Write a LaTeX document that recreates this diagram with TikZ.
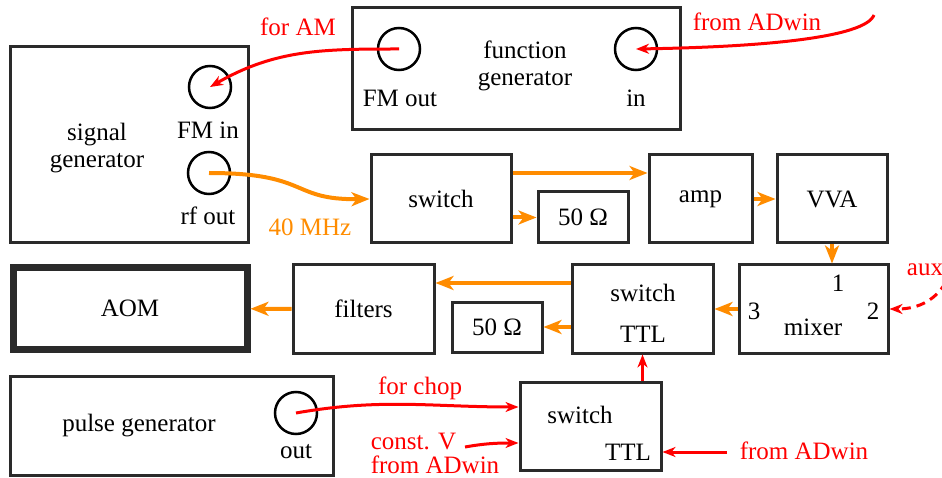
\documentclass[tikz,border=0pt]{standalone}
\usepackage{fontspec}
\setmainfont{Liberation Serif}
\usetikzlibrary{arrows.meta,positioning,calc}
\definecolor{ink}{HTML}{2A2A2A}
\definecolor{rfline}{HTML}{FF8C00}
\definecolor{ctrlline}{HTML}{FF0000}

\begin{document}
\begin{tikzpicture}[
  x=1pt, y=-1pt,
  font=\fontsize{25}{27}\selectfont,
  every node/.append style={align=center},
  unit/.style={draw=ink, line width=3pt, inner sep=0pt},
  port/.style={circle, draw=black, line width=2.5pt, minimum size=42pt, inner sep=0pt},
  rf/.style={-{Stealth[length=18pt,width=14pt,inset=5pt]}, draw=rfline, line width=4pt},
  ctrl/.style={-{Stealth[length=13pt,width=10pt,inset=4pt]}, draw=ctrlline, line width=3pt},
  note/.style={text=ctrlline, align=left},
  freq/.style={text=rfline}
]
\useasboundingbox (0,0) rectangle (942,478);

% Quellen oben links.
\node[unit, minimum width=238pt, minimum height=196pt] (siggen) at (129,145) {};
\node (siggentxt) at (97,148) {signal\\generator};
\node[port] (fmin) at (210,87) {};
\node (fminlbl) at (208,130) {FM in};
\node[port] (rfout) at (209,173) {};
\node (rfoutlbl) at (208,216) {rf out};

\node[unit, minimum width=328pt, minimum height=122pt] (funcgen) at (516,69) {};
\node (funcgentxt) at (525,66) {function\\generator};
\node[port] (fmout) at (399,49) {};
\node (fmoutlbl) at (400,98) {FM out};
\node[port] (fgin) at (636,49) {};
\node (fginlbl) at (636,98) {in};

% HF-Kette.
\node[unit, minimum width=140pt, minimum height=88pt] (rfswitch) at (441,199) {switch};
\node[unit, minimum width=90pt, minimum height=51pt] (dumpA) at (583,217.5) {50 Ω};
\node[unit, minimum width=103pt, minimum height=88pt] (amp) at (700.5,199) {amp};
\node[unit, minimum width=110pt, minimum height=88pt] (vva) at (832,199) {VVA};

\node[unit, line width=7pt, minimum width=234pt, minimum height=81pt] (aom) at (130,308.5) {AOM};
\node[unit, minimum width=141pt, minimum height=88pt] (filters) at (363.5,309) {filters};
\node[unit, minimum width=90pt, minimum height=50pt] (dumpB) at (497,327) {50 Ω};
\node[unit, minimum width=141pt, minimum height=88pt] (ttlswitch) at (642.5,309) {};
\node (ttlswitchtxt) at (643,313) {switch\\[14pt]TTL};
\node[unit, minimum width=149pt, minimum height=88pt] (mixer) at (813.5,309) {};
\node (mixone) at (838,283) {1};
\node (mixtwo) at (873,311) {2};
\node (mixthree) at (754,311) {3};
\node (mixtxt) at (813,327) {mixer};

% Pulse und Chop.
\node[unit, minimum width=323pt, minimum height=99pt] (pulsegen) at (171.5,425.5) {};
\node (pulsegentxt) at (139,426) {pulse generator};
\node[port] (pgout) at (296,413) {};
\node (pgoutlbl) at (296,452) {out};
\node[unit, minimum width=141pt, minimum height=88pt] (chopswitch) at (590.5,426) {};
\node (chopswitchtxt) at (580,415) {switch};
\node (chopswitchttl) at (628,452) {TTL};

% Beschriftungen.
\node[note] (foram) at (298,27) {for AM};
\node[note] (adwintxtA) at (757,22) {from ADwin};
\node[freq] (mhz) at (310,227) {40 MHz};
\node[note] (aux) at (925,270) {aux};
\node[note] (forchop) at (420,388) {for chop};
\node[note, font=\fontsize{25}{24}\selectfont] (constv) at (435,453) {const. V\\from ADwin};
\node[note] (adwintxtB) at (804,451) {from ADwin};

\coordinate (adwinA) at (874,15);
\coordinate (auxin) at (946,282);
\coordinate (constvend) at (465,447);
\coordinate (adwinB) at (727,452);

% HF-Pfeile.
\draw[rf] (rfout.center) .. controls (310,173) and (290,200) .. (rfswitch.west);
\draw[rf] ([yshift=26pt]rfswitch.east) -- ([yshift=26pt]amp.west);
\draw[rf] (rfswitch.east |- dumpA.west) -- (dumpA.west);
\draw[rf] (amp) -- (vva);
\draw[rf] (vva.south) -- (vva.south |- mixer.north);
\draw[rf] (mixer) -- (ttlswitch);
\draw[rf] ([yshift=26pt]ttlswitch.west) -- ([yshift=26pt]filters.east);
\draw[rf] (ttlswitch.west |- dumpB.east) -- (dumpB.east);
\draw[rf] (filters) -- (aom);

% Steuerpfeile.
\draw[ctrl] (fmout.center) to[out=180,in=30] (fmin.center);
\draw[ctrl] (adwinA) .. controls (865,38) and (760,47) .. (fgin.center);
\draw[ctrl, dash pattern=on 9pt off 6pt] (auxin) to[out=-120,in=0] (mixer.east);
\draw[ctrl] (pgout.center) to[out=10,in=180] ([yshift=19pt]chopswitch.west);
\draw[ctrl] (constvend) to[out=10,in=180] ([yshift=-17pt]chopswitch.west);
\draw[ctrl] (adwinB) -- (adwinB -| chopswitch.east);
\draw[ctrl] (chopswitch.north -| ttlswitch.south) -- (ttlswitch.south);

\end{tikzpicture}
\end{document}
